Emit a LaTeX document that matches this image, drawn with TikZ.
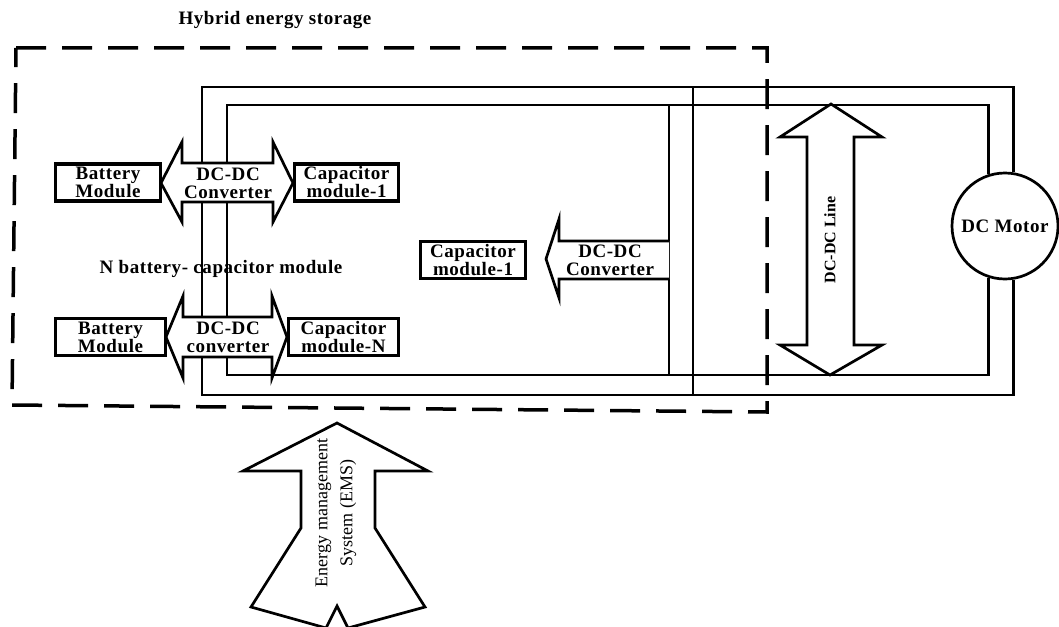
\documentclass[tikz,border=0pt]{standalone}
\usepackage{fontspec}
\setmainfont{Liberation Serif}
\newfontfamily\spaced[LetterSpace=3]{Liberation Serif}
\newcommand\lbl{\spaced\bfseries\fontsize{19}{18}\selectfont}
\tikzset{
  bus/.style={line width=2.7pt},
  frame/.style={line width=3.5pt, dash pattern=on 30pt off 16pt},
  module/.style={draw, line width=3.8pt, fill=white, inner sep=0pt,
    minimum height=37pt, align=center, font=\lbl},
  fat/.style={draw, line width=2.7pt, fill=white, line join=miter},
  txt/.style={align=center, inner sep=0pt, font=\lbl},
  motor/.style={draw, circle, line width=2.7pt, fill=white, inner sep=0pt,
    minimum size=106pt, font=\lbl}
}
\begin{document}
\begin{tikzpicture}[x=1pt,y=-1pt]
\useasboundingbox (0,0) rectangle (1059,626);
\clip (0,0) rectangle (1059,626);

% storage frame
\draw[frame] (16,48) -- (767,48) -- (767,412) -- (12,405) -- cycle;
\node[txt] (hes) at (275,20) {Hybrid energy storage};

% motor and bus lines
\node[motor] (mot) at (1005,226) {DC Motor};
\coordinate (otl) at (202,87);
\coordinate (obl) at (202,395);
\coordinate (itl) at (227,105);
\coordinate (ibl) at (227,375);
\coordinate (ov) at (693,0);
\coordinate (iv) at (669,0);
\draw[bus] (mot.81.5) |- (otl) -- (obl) -| (mot.-81.5);
\draw[bus] (mot.108.4) |- (itl) -- (ibl) -| (mot.-108.4);
\draw[bus] (otl -| ov) -- (obl -| ov);
\draw[bus] (itl -| iv) -- (ibl -| iv);

% module 1
\draw[fat] (161,183) -- (182,142) -- (182,163) -- (273,163) -- (273,142) -- (293,183)
  -- (273,222) -- (273,202) -- (182,202) -- (182,222) -- cycle;
\node[txt] (conv1) at (228,183) {DC-DC\\Converter};
\node[module, minimum width=105pt] (bat1) at (108,182.5) {Battery\\Module};
\node[module, minimum width=104pt] (cap1) at (346.5,182.5) {Capacitor\\module-1};

\node[txt] (nbc) at (221,269) {N battery- capacitor module};

% module N
\draw[fat] (166,337) -- (183,296) -- (183,317) -- (272,317) -- (272,296) -- (287,337)
  -- (272,378) -- (272,357) -- (183,357) -- (183,378) -- cycle;
\node[txt] (conv2) at (228,337) {DC-DC\\converter};
\node[module, minimum width=110pt] (bat2) at (110.5,337) {Battery\\Module};
\node[module, minimum width=110pt] (capn) at (343.5,337) {Capacitor\\module-N};

% middle converter
\draw[fat] (669,241) -- (559,241) -- (559,219) -- (546,259) -- (559,298) -- (559,279) -- (669,279);
\node[txt] (conv3) at (610,260) {DC-DC\\Converter};
\node[module, minimum width=105pt] (capm) at (473,260) {Capacitor\\module-1};

% dc line
\draw[fat] (831,104) -- (882,137) -- (854,137) -- (854,345) -- (882,345) -- (830,375)
  -- (780,345) -- (807,345) -- (807,137) -- (780,137) -- cycle;
\node[txt, rotate=90, font=\bfseries\fontsize{16}{17}\selectfont] (dcl) at (830,240) {DC-DC Line};

% EMS
\draw[fat] (337,423) -- (428,471) -- (375,471) -- (375,528) -- (425,607) -- (348,628)
  -- (337,606) -- (326,628) -- (251,607) -- (301,528) -- (301,471) -- (243,471) -- cycle;
\node[txt, rotate=90, font=\fontsize{18}{25}\selectfont] (ems) at (336,513)
  {Energy management\\System (EMS)};
\end{tikzpicture}
\end{document}
